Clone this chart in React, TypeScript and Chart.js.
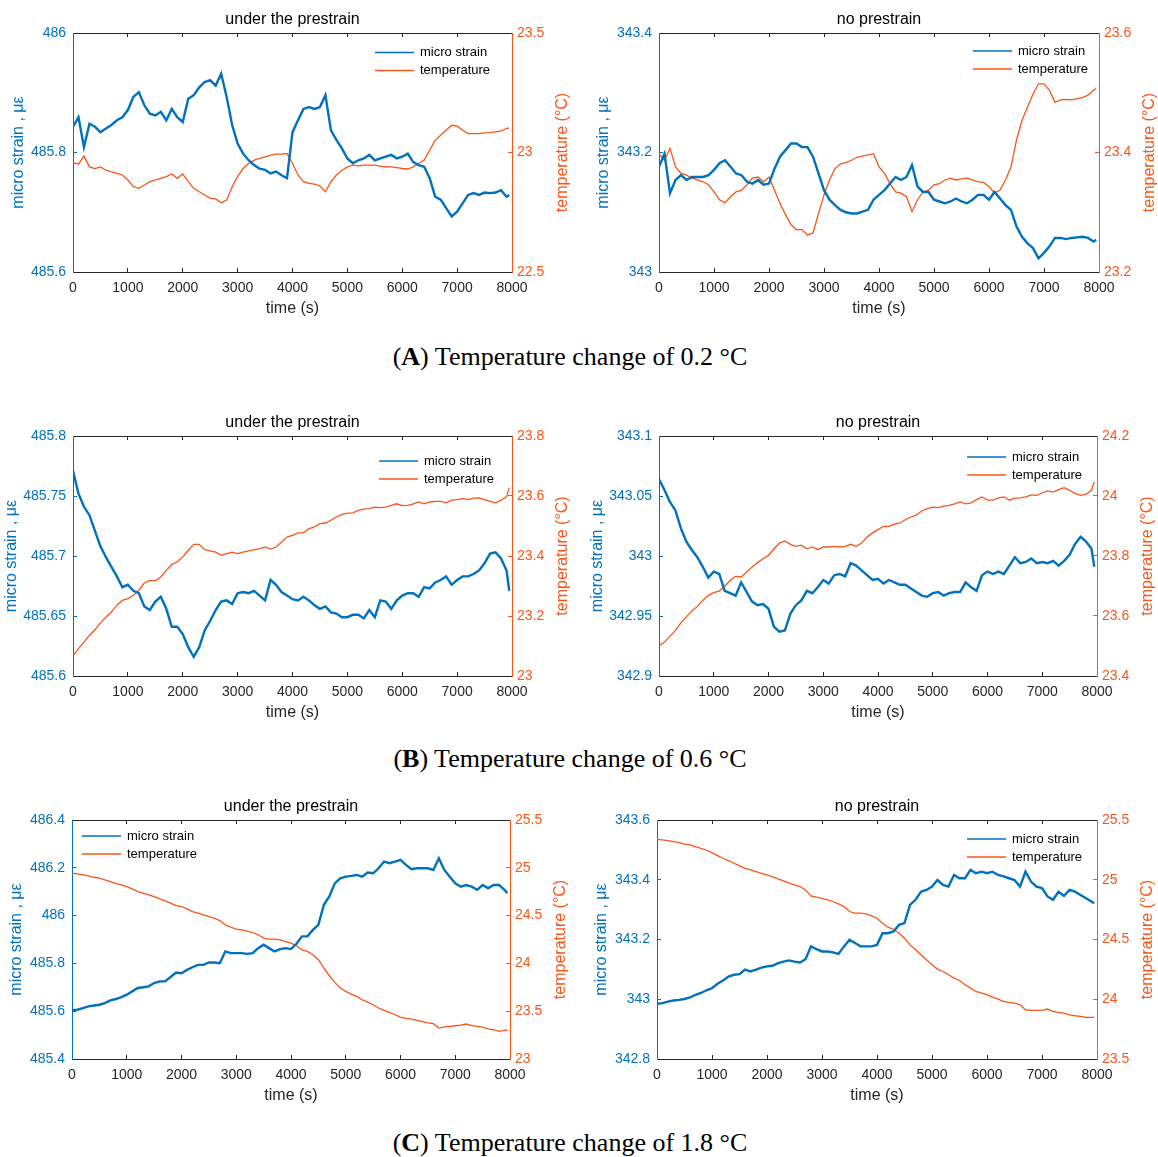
import React, { useEffect, useRef } from 'react';
import { Chart, registerables } from 'chart.js';

Chart.register(...registerables);

const BLUE = '#0072BD';
const ORANGE = '#FA5518';
const FONT = '"Liberation Sans", Arial, Helvetica, sans-serif';

// time axis (s)
const timeS = [
  0, 100, 200, 300, 400, 500, 600, 700, 800, 900,
  1000, 1100, 1200, 1300, 1400, 1500, 1600, 1700, 1800, 1900,
  2000, 2100, 2200, 2300, 2400, 2500, 2600, 2700, 2800, 2900,
  3000, 3100, 3200, 3300, 3400, 3500, 3600, 3700, 3800, 3900,
  4000, 4100, 4200, 4300, 4400, 4500, 4600, 4700, 4800, 4900,
  5000, 5100, 5200, 5300, 5400, 5500, 5600, 5700, 5800, 5900,
  6000, 6100, 6200, 6300, 6400, 6500, 6600, 6700, 6800, 6900,
  7000, 7100, 7200, 7300, 7400, 7500, 7600, 7700, 7800, 7900, 7950,
];
const xTicks = [0, 1000, 2000, 3000, 4000, 5000, 6000, 7000, 8000];

// (A) 0.2 °C — under the prestrain
const aPreStrain = [
  485.843, 485.859, 485.809, 485.848, 485.843, 485.834, 485.840, 485.846, 485.854, 485.859,
  485.871, 485.893, 485.901, 485.879, 485.865, 485.862, 485.868, 485.854, 485.873, 485.859,
  485.851, 485.890, 485.896, 485.909, 485.918, 485.921, 485.912, 485.932, 485.893, 485.846,
  485.815, 485.798, 485.787, 485.779, 485.773, 485.771, 485.765, 485.768, 485.762, 485.757,
  485.834, 485.854, 485.873, 485.876, 485.873, 485.876, 485.896, 485.837, 485.821, 485.807,
  485.790, 485.782, 485.787, 485.790, 485.796, 485.787, 485.790, 485.793, 485.796, 485.790,
  485.793, 485.798, 485.784, 485.779, 485.776, 485.757, 485.726, 485.721, 485.707, 485.693,
  485.701, 485.715, 485.729, 485.732, 485.729, 485.733, 485.732, 485.733, 485.737, 485.726, 485.729,
];
const aPreTemp = [
  22.958, 22.951, 22.985, 22.940, 22.933, 22.940, 22.926, 22.919, 22.913, 22.906,
  22.885, 22.857, 22.850, 22.864, 22.878, 22.885, 22.892, 22.899, 22.910, 22.892,
  22.910, 22.878, 22.850, 22.836, 22.822, 22.808, 22.806, 22.790, 22.801, 22.857,
  22.899, 22.933, 22.954, 22.968, 22.975, 22.982, 22.989, 22.993, 22.993, 22.996,
  22.954, 22.906, 22.878, 22.871, 22.868, 22.860, 22.836, 22.878, 22.906, 22.926,
  22.940, 22.947, 22.944, 22.947, 22.947, 22.947, 22.943, 22.940, 22.940, 22.937,
  22.933, 22.931, 22.940, 22.954, 22.968, 23.010, 23.051, 23.072, 23.093, 23.114,
  23.110, 23.093, 23.079, 23.079, 23.079, 23.082, 23.083, 23.086, 23.090, 23.100, 23.103,
];
// (A) 0.2 °C — no prestrain
const aNoStrain = [
  343.176, 343.198, 343.132, 343.154, 343.162, 343.154, 343.159, 343.159, 343.159, 343.162,
  343.171, 343.182, 343.187, 343.176, 343.165, 343.162, 343.151, 343.148, 343.154, 343.146,
  343.148, 343.173, 343.193, 343.204, 343.215, 343.215, 343.209, 343.209, 343.193, 343.165,
  343.137, 343.121, 343.112, 343.104, 343.100, 343.098, 343.098, 343.101, 343.104, 343.121,
  343.129, 343.137, 343.148, 343.159, 343.154, 343.159, 343.179, 343.143, 343.134, 343.134,
  343.121, 343.118, 343.115, 343.118, 343.123, 343.118, 343.115, 343.121, 343.129, 343.129,
  343.121, 343.134, 343.123, 343.112, 343.104, 343.076, 343.059, 343.048, 343.040, 343.023,
  343.032, 343.043, 343.057, 343.057, 343.055, 343.057, 343.058, 343.059, 343.057, 343.051, 343.054,
];
const aNoTemp = [
  23.398, 23.387, 23.407, 23.376, 23.365, 23.362, 23.357, 23.354, 23.351, 23.346,
  23.334, 23.321, 23.316, 23.326, 23.334, 23.337, 23.346, 23.357, 23.359, 23.351,
  23.359, 23.337, 23.315, 23.296, 23.279, 23.271, 23.271, 23.262, 23.265, 23.298,
  23.329, 23.354, 23.373, 23.381, 23.383, 23.387, 23.392, 23.394, 23.396, 23.398,
  23.376, 23.365, 23.348, 23.334, 23.332, 23.326, 23.301, 23.321, 23.334, 23.337,
  23.346, 23.348, 23.354, 23.357, 23.354, 23.356, 23.357, 23.354, 23.351, 23.350,
  23.343, 23.332, 23.337, 23.354, 23.376, 23.421, 23.454, 23.476, 23.498, 23.515,
  23.515, 23.504, 23.484, 23.488, 23.489, 23.488, 23.490, 23.492, 23.496, 23.504, 23.507,
];

// (B) 0.6 °C — under the prestrain
const bPreStrain = [
  485.771, 485.752, 485.741, 485.734, 485.721, 485.708, 485.699, 485.691, 485.683, 485.674,
  485.676, 485.671, 485.669, 485.658, 485.655, 485.662, 485.666, 485.656, 485.641, 485.641,
  485.635, 485.624, 485.616, 485.624, 485.638, 485.646, 485.655, 485.662, 485.663, 485.660,
  485.669, 485.670, 485.669, 485.671, 485.667, 485.663, 485.680, 485.676, 485.670, 485.667,
  485.664, 485.663, 485.666, 485.663, 485.659, 485.656, 485.658, 485.653, 485.652, 485.649,
  485.649, 485.651, 485.651, 485.648, 485.655, 485.649, 485.663, 485.662, 485.656, 485.663,
  485.667, 485.669, 485.669, 485.666, 485.674, 485.673, 485.678, 485.680, 485.683, 485.676,
  485.680, 485.683, 485.683, 485.685, 485.688, 485.694, 485.702, 485.703, 485.698, 485.688, 485.671,
];
const bPreTemp = [
  23.066, 23.091, 23.113, 23.136, 23.154, 23.177, 23.197, 23.213, 23.236, 23.252,
  23.258, 23.269, 23.286, 23.310, 23.319, 23.317, 23.330, 23.352, 23.372, 23.380,
  23.397, 23.419, 23.439, 23.439, 23.421, 23.417, 23.413, 23.402, 23.408, 23.413,
  23.408, 23.413, 23.417, 23.421, 23.424, 23.430, 23.423, 23.430, 23.447, 23.463,
  23.469, 23.477, 23.477, 23.491, 23.497, 23.508, 23.510, 23.519, 23.530, 23.539,
  23.543, 23.544, 23.552, 23.556, 23.558, 23.563, 23.561, 23.563, 23.569, 23.574,
  23.568, 23.569, 23.574, 23.580, 23.574, 23.580, 23.582, 23.582, 23.577, 23.586,
  23.588, 23.591, 23.588, 23.593, 23.594, 23.588, 23.582, 23.577, 23.586, 23.597, 23.628,
];
// (B) 0.6 °C — no prestrain
const bNoStrain = [
  343.064, 343.055, 343.045, 343.038, 343.023, 343.012, 343.005, 342.999, 342.991, 342.982,
  342.987, 342.985, 342.971, 342.969, 342.967, 342.978, 342.970, 342.962, 342.959, 342.960,
  342.956, 342.941, 342.937, 342.938, 342.952, 342.959, 342.963, 342.971, 342.969, 342.974,
  342.980, 342.977, 342.984, 342.985, 342.983, 342.994, 342.992, 342.988, 342.984, 342.980,
  342.981, 342.977, 342.980, 342.978, 342.976, 342.976, 342.973, 342.970, 342.967, 342.966,
  342.969, 342.970, 342.967, 342.969, 342.970, 342.970, 342.978, 342.974, 342.971, 342.984,
  342.987, 342.985, 342.987, 342.985, 342.992, 342.999, 342.994, 342.995, 342.998, 342.994,
  342.995, 342.994, 342.996, 342.992, 342.996, 343.001, 343.010, 343.016, 343.012, 343.006, 342.991,
];
const bNoTemp = [
  23.500, 23.513, 23.532, 23.552, 23.577, 23.597, 23.617, 23.632, 23.652, 23.669,
  23.678, 23.683, 23.699, 23.719, 23.732, 23.730, 23.747, 23.763, 23.778, 23.791,
  23.802, 23.824, 23.843, 23.850, 23.839, 23.832, 23.836, 23.824, 23.830, 23.821,
  23.830, 23.830, 23.832, 23.830, 23.832, 23.839, 23.832, 23.843, 23.863, 23.877,
  23.888, 23.899, 23.899, 23.906, 23.910, 23.921, 23.930, 23.936, 23.950, 23.958,
  23.963, 23.961, 23.966, 23.969, 23.974, 23.980, 23.974, 23.977, 23.988, 23.997,
  23.986, 23.986, 23.994, 23.997, 23.986, 23.993, 23.994, 23.997, 24.004, 24.002,
  24.010, 24.017, 24.013, 24.021, 24.028, 24.019, 24.008, 24.002, 24.006, 24.019, 24.047,
];

// (C) 1.8 °C — under the prestrain
const cPreStrain = [
  485.603, 485.606, 485.613, 485.620, 485.624, 485.627, 485.634, 485.645, 485.651, 485.659,
  485.669, 485.683, 485.697, 485.700, 485.704, 485.718, 485.725, 485.725, 485.743, 485.762,
  485.759, 485.773, 485.784, 485.794, 485.794, 485.804, 485.804, 485.801, 485.850, 485.843,
  485.843, 485.843, 485.840, 485.843, 485.864, 485.878, 485.864, 485.850, 485.860, 485.864,
  485.860, 485.882, 485.913, 485.913, 485.940, 485.961, 486.045, 486.080, 486.135, 486.156,
  486.163, 486.166, 486.170, 486.163, 486.180, 486.177, 486.198, 486.226, 486.219, 486.226,
  486.233, 486.212, 486.194, 486.198, 486.198, 486.198, 486.191, 486.240, 486.191, 486.163,
  486.135, 486.121, 486.128, 486.121, 486.108, 486.128, 486.114, 486.128, 486.128, 486.108, 486.094,
];
const cPreTemp = [
  24.943, 24.936, 24.925, 24.915, 24.901, 24.891, 24.873, 24.856, 24.838, 24.821,
  24.804, 24.779, 24.751, 24.734, 24.717, 24.699, 24.675, 24.654, 24.630, 24.605,
  24.595, 24.570, 24.542, 24.525, 24.508, 24.490, 24.473, 24.448, 24.403, 24.379,
  24.358, 24.351, 24.337, 24.323, 24.299, 24.264, 24.253, 24.253, 24.247, 24.229,
  24.212, 24.184, 24.142, 24.125, 24.090, 24.038, 23.951, 23.871, 23.801, 23.742,
  23.707, 23.679, 23.655, 23.620, 23.595, 23.568, 23.533, 23.508, 23.487, 23.463,
  23.439, 23.425, 23.418, 23.404, 23.390, 23.377, 23.369, 23.324, 23.335, 23.341,
  23.348, 23.355, 23.366, 23.348, 23.341, 23.334, 23.314, 23.306, 23.289, 23.299, 23.306,
];
// (C) 1.8 °C — no prestrain
const cNoStrain = [
  342.985, 342.987, 342.992, 342.996, 342.998, 343.001, 343.006, 343.015, 343.021, 343.030,
  343.037, 343.052, 343.063, 343.076, 343.082, 343.084, 343.099, 343.093, 343.099, 343.106,
  343.110, 343.112, 343.121, 343.126, 343.130, 343.126, 343.123, 343.134, 343.177, 343.168,
  343.160, 343.160, 343.157, 343.152, 343.177, 343.199, 343.188, 343.177, 343.177, 343.177,
  343.182, 343.221, 343.221, 343.227, 343.249, 343.255, 343.316, 343.333, 343.360, 343.366,
  343.377, 343.399, 343.383, 343.377, 343.416, 343.405, 343.405, 343.433, 343.422, 343.427,
  343.422, 343.427, 343.416, 343.411, 343.405, 343.399, 343.377, 343.427, 343.394, 343.377,
  343.372, 343.344, 343.333, 343.360, 343.346, 343.366, 343.360, 343.349, 343.338, 343.327, 343.321,
];
const cNoTemp = [
  25.338, 25.333, 25.327, 25.319, 25.311, 25.299, 25.291, 25.277, 25.263, 25.247,
  25.227, 25.202, 25.180, 25.160, 25.138, 25.116, 25.096, 25.082, 25.068, 25.054,
  25.040, 25.024, 25.007, 24.990, 24.971, 24.957, 24.943, 24.915, 24.865, 24.854,
  24.845, 24.831, 24.818, 24.798, 24.776, 24.734, 24.720, 24.720, 24.715, 24.698,
  24.678, 24.636, 24.603, 24.586, 24.553, 24.511, 24.455, 24.414, 24.372, 24.330,
  24.288, 24.252, 24.232, 24.205, 24.177, 24.157, 24.121, 24.093, 24.065, 24.051,
  24.038, 24.018, 24.001, 23.982, 23.974, 23.968, 23.954, 23.912, 23.907, 23.907,
  23.907, 23.918, 23.898, 23.890, 23.884, 23.870, 23.862, 23.857, 23.848, 23.848, 23.848,
];

// axis ticks
const aPreStrainTicks = [485.6, 485.8, 486];
const aPreTempTicks = [22.5, 23, 23.5];
const aNoStrainTicks = [343, 343.2, 343.4];
const aNoTempTicks = [23.2, 23.4, 23.6];
const bPreStrainTicks = [485.6, 485.65, 485.7, 485.75, 485.8];
const bPreTempTicks = [23, 23.2, 23.4, 23.6, 23.8];
const bNoStrainTicks = [342.9, 342.95, 343, 343.05, 343.1];
const bNoTempTicks = [23.4, 23.6, 23.8, 24, 24.2];
const cPreStrainTicks = [485.4, 485.6, 485.8, 486, 486.2, 486.4];
const cPreTempTicks = [23, 23.5, 24, 24.5, 25, 25.5];
const cNoStrainTicks = [342.8, 343, 343.2, 343.4, 343.6];
const cNoTempTicks = [23.5, 24, 24.5, 25, 25.5];

const seriesLabels = ['micro strain', 'temperature'];

const overlayPlugin = {
  id: 'overlay',
  afterDraw(chart: any, _args: any, opts: any) {
    const { ctx, chartArea } = chart;
    ctx.save();
    ctx.font = `13px ${FONT}`;
    ctx.textBaseline = 'middle';
    chart.data.datasets.forEach((ds: any, i: number) => {
      const x = chartArea.left + opts.legX;
      const y = chartArea.top + opts.legY + i * 18;
      ctx.strokeStyle = ds.borderColor;
      ctx.lineWidth = 1.3;
      ctx.beginPath();
      ctx.moveTo(x, y);
      ctx.lineTo(x + 39, y);
      ctx.stroke();
      ctx.fillStyle = '#000';
      ctx.textAlign = 'left';
      ctx.fillText(ds.label, x + 45, y);
    });
    ctx.translate(chartArea.right + 51, (chartArea.top + chartArea.bottom) / 2);
    ctx.rotate(-Math.PI / 2);
    ctx.textAlign = 'center';
    ctx.fillStyle = ORANGE;
    ctx.font = `16px ${FONT}`;
    ctx.fillText('temperature (°C)', 0, 0);
    ctx.restore();
  },
};

type PanelProps = {
  title: string;
  strain: number[];
  temp: number[];
  sTicks: number[];
  tTicks: number[];
  areaL: number;
  areaR: number;
  areaT: number;
  areaB: number;
  legX: number;
  legY: number;
  yTitlePad: number;
};

function Panel(p: PanelProps) {
  const ref = useRef<HTMLCanvasElement>(null);
  const left = p.areaL - 73;
  const top = p.areaT - 33;
  const width = p.areaR + 58 - left;
  const height = p.areaB + 50 - top;

  useEffect(() => {
    const setTicks = (vals: number[]) => (s: any) => {
      s.ticks = vals.map((v) => ({ value: v }));
    };
    const xGrid = { drawOnChartArea: false, drawTicks: true, tickLength: -4, tickColor: '#262626' };
    const chart = new Chart(ref.current as HTMLCanvasElement, {
      type: 'line',
      data: {
        datasets: [
          {
            label: seriesLabels[0],
            data: timeS.map((t, i) => ({ x: t, y: p.strain[i] })),
            borderColor: BLUE,
            borderWidth: 2.4,
            pointRadius: 0,
            tension: 0,
            yAxisID: 'y',
            xAxisID: 'x',
          },
          {
            label: seriesLabels[1],
            data: timeS.map((t, i) => ({ x: t, y: p.temp[i] })),
            borderColor: ORANGE,
            borderWidth: 1.3,
            pointRadius: 0,
            tension: 0,
            yAxisID: 'y1',
            xAxisID: 'x',
          },
        ],
      },
      options: {
        responsive: false,
        animation: false,
        devicePixelRatio: 1,
        layout: { padding: 0 },
        plugins: {
          legend: { display: false },
          tooltip: { enabled: false },
          title: { display: false },
          overlay: { legX: p.legX, legY: p.legY },
        } as any,
        scales: {
          x: {
            type: 'linear',
            position: 'bottom',
            min: 0,
            max: 8000,
            afterBuildTicks: setTicks(xTicks),
            ticks: {
              color: '#262626',
              font: { size: 14, family: FONT },
              padding: 12,
              maxRotation: 0,
              autoSkip: false,
              callback: (v: any) => String(v),
            },
            grid: xGrid,
            border: { color: '#262626', width: 1 },
            title: {
              display: true,
              text: 'time (s)',
              color: '#262626',
              font: { size: 16, family: FONT },
              padding: { top: 0, bottom: 3.4 },
            },
            afterFit: (s: any) => {
              s.height = 50;
            },
          },
          x2: {
            type: 'linear',
            position: 'top',
            min: 0,
            max: 8000,
            afterBuildTicks: setTicks(xTicks),
            ticks: { display: false },
            grid: xGrid,
            border: { color: '#262626', width: 1 },
            title: {
              display: true,
              text: p.title,
              color: '#000',
              font: { size: 16, family: FONT },
              padding: { top: 9.6, bottom: 0 },
            },
            afterFit: (s: any) => {
              s.height = 33;
            },
          },
          y: {
            type: 'linear',
            position: 'left',
            min: p.sTicks[0],
            max: p.sTicks[p.sTicks.length - 1],
            afterBuildTicks: setTicks(p.sTicks),
            ticks: {
              color: BLUE,
              font: { size: 14, family: FONT },
              padding: 11,
              callback: (v: any) => String(v),
            },
            grid: { drawOnChartArea: false, drawTicks: true, tickLength: -4, tickColor: BLUE },
            border: { color: BLUE, width: 1 },
            title: {
              display: true,
              text: 'micro strain , με',
              color: BLUE,
              font: { size: 16, family: FONT },
              padding: { top: p.yTitlePad, bottom: 0 },
            },
            afterFit: (s: any) => {
              s.width = 73;
            },
          },
          y1: {
            type: 'linear',
            position: 'right',
            min: p.tTicks[0],
            max: p.tTicks[p.tTicks.length - 1],
            afterBuildTicks: setTicks(p.tTicks),
            ticks: {
              color: ORANGE,
              font: { size: 14, family: FONT },
              padding: 9,
              callback: (v: any) => String(v),
            },
            grid: { drawOnChartArea: false, drawTicks: true, tickLength: -4, tickColor: ORANGE },
            border: { color: ORANGE, width: 1 },
            afterFit: (s: any) => {
              s.width = 58;
            },
          },
        } as any,
      },
      plugins: [overlayPlugin as any],
    });
    return () => chart.destroy();
  }, []);

  return (
    <canvas
      ref={ref}
      width={width}
      height={height}
      style={{ position: 'absolute', left, top, width, height }}
    />
  );
}

function Caption({ letter, text, y }: { letter: string; text: string; y: number }) {
  return (
    <div
      style={{
        position: 'absolute',
        left: 0,
        width: 1140,
        top: y - 15,
        height: 30,
        lineHeight: '30px',
        textAlign: 'center',
        fontFamily: '"Liberation Serif", "Times New Roman", serif',
        fontSize: 26,
        color: '#000',
      }}
    >
      (<b>{letter}</b>) {text}
    </div>
  );
}

export default function App() {
  return (
    <div style={{ position: 'absolute', left: 0, top: 0, width: 1158, height: 1157, background: '#fff', overflow: 'hidden' }}>
      <Panel title="under the prestrain" strain={aPreStrain} temp={aPreTemp} sTicks={aPreStrainTicks} tTicks={aPreTempTicks}
        areaL={73} areaR={512} areaT={33} areaB={272} legX={302} legY={19.5} yTitlePad={9.4} />
      <Panel title="no prestrain" strain={aNoStrain} temp={aNoTemp} sTicks={aNoStrainTicks} tTicks={aNoTempTicks}
        areaL={659} areaR={1099} areaT={33} areaB={272} legX={314} legY={18} yTitlePad={8.4} />
      <Caption letter="A" text="Temperature change of 0.2 °C" y={357} />

      <Panel title="under the prestrain" strain={bPreStrain} temp={bPreTemp} sTicks={bPreStrainTicks} tTicks={bPreTempTicks}
        areaL={73} areaR={512} areaT={436} areaB={676} legX={306} legY={25} yTitlePad={1.6} />
      <Panel title="no prestrain" strain={bNoStrain} temp={bNoTemp} sTicks={bNoStrainTicks} tTicks={bNoTempTicks}
        areaL={659} areaR={1097} areaT={436} areaB={676} legX={308} legY={21} yTitlePad={2.4} />
      <Caption letter="B" text="Temperature change of 0.6 °C" y={759} />

      <Panel title="under the prestrain" strain={cPreStrain} temp={cPreTemp} sTicks={cPreStrainTicks} tTicks={cPreTempTicks}
        areaL={72} areaR={510} areaT={820} areaB={1059} legX={10} legY={16} yTitlePad={8.4} />
      <Panel title="no prestrain" strain={cNoStrain} temp={cNoTemp} sTicks={cNoStrainTicks} tTicks={cNoTempTicks}
        areaL={657} areaR={1097} areaT={820} areaB={1059} legX={310} legY={19} yTitlePad={8.4} />
      <Caption letter="C" text="Temperature change of 1.8 °C" y={1143} />
    </div>
  );
}
